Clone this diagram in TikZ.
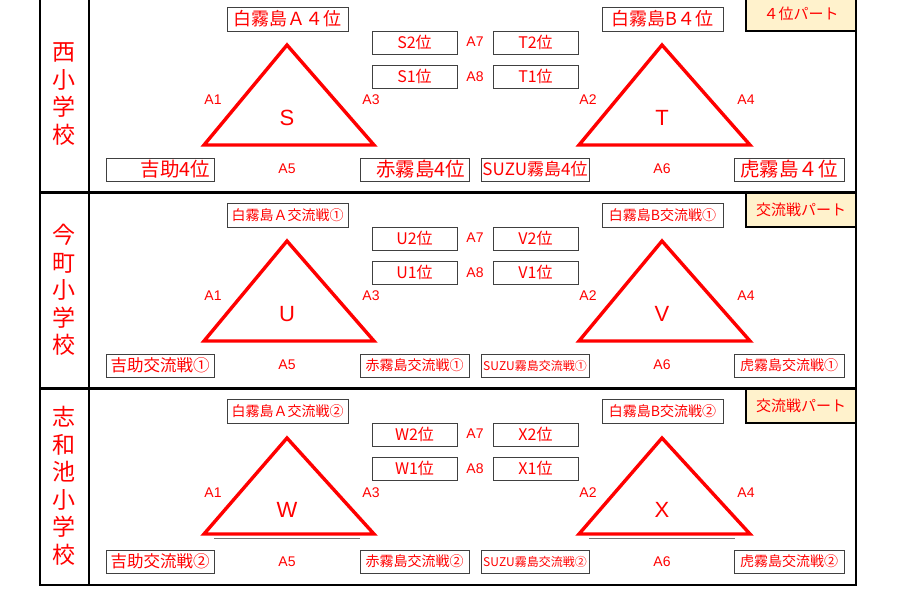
\documentclass[tikz,border=0pt]{standalone}
\usepackage{fontspec}
\setmainfont{Noto Sans CJK JP}
\newfontfamily\latn{Liberation Sans}
\usepackage{xcolor}
\usepackage{tikz}
\tikzset{>=latex}
\usetikzlibrary{shapes,calc}
\definecolor{partBG}{HTML}{FFF2CC}
\newcommand{\fsz}[1]{\fontsize{#1}{#1}\selectfont}
\tikzstyle{seedbox} = [rectangle,draw=black!75,line width=1pt,minimum width=121pt,minimum height=24pt,inner sep=0pt,text=red]
\tikzstyle{rankbox} = [rectangle,draw=black!75,line width=1pt,minimum width=85pt,minimum height=23pt,inner sep=0pt,text=red,font=\fsz{16}]
\tikzstyle{teambox} = [rectangle,draw=black!75,line width=1pt,minimum width=108pt,minimum height=23pt,inner sep=0pt,text=red]
\tikzstyle{partbox} = [rectangle,draw=black,line width=2.5pt,fill=partBG,minimum width=110pt,minimum height=34pt,inner sep=0pt,text=red,font=\fsz{15}]
\tikzstyle{match}  = [text=red,inner sep=0pt,font=\latn\fsz{14}]
\tikzstyle{letter} = [text=red,inner sep=0pt,font=\latn\fsz{22}]
\tikzstyle{league} = [draw=red,line width=3.4pt]
\tikzstyle{school} = [text=red,align=center,inner sep=0pt,font=\fontsize{23}{27.5}\selectfont]
\tikzstyle{frame}  = [draw=black,line width=2.5pt]

\begin{document}
\begin{tikzpicture}[x=1pt,y=-1pt]
	\useasboundingbox (0,0) rectangle (907,598);
	
	% frame
	\draw[frame] (40,0) -- (40,585) -- (856,585) -- (856,0);
	\draw[frame,line width=2pt] (89,0) -- (89,585);
	\draw[frame] (40,192.5) -- (856,192.5);
	\draw[frame] (40,388.5) -- (856,388.5);
	
	% 4 place part
	\node[school] (nishi) at (64,94) {西\\小\\学\\校};
	\node[partbox] (p1) at (801,14) {４位パート};
	
	\node[seedbox,font=\fsz{18}] (sA) at (287.5,19) {白霧島Ａ４位};
	\node[seedbox,font=\fsz{18}] (tB) at (662.5,19) {白霧島B４位};
	\node[rankbox] (s2) at (414.5,42.5) {S2位};
	\node[rankbox] (s1) at (414.5,76.5) {S1位};
	\node[rankbox] (t2) at (535.5,42.5) {T2位};
	\node[rankbox] (t1) at (535.5,76.5) {T1位};
	\node[match] (sa7) at (475,42) {A7};
	\node[match] (sa8) at (475,77) {A8};
	
	\coordinate (s-top) at (287,45);
	\coordinate (s-left) at (204,145);
	\coordinate (s-right) at (374,145);
	\draw[league] (s-top) -- (s-left) -- (s-right) -- cycle;
	\node[letter] (S) at (287,118) {S};
	\node[match] (sa1) at (213,100) {A1};
	\node[match] (sa3) at (371,100) {A3};
	\node[match] (sa5) at (287,169) {A5};
	
	\coordinate (t-top) at (662,45);
	\coordinate (t-left) at (579,145);
	\coordinate (t-right) at (750,145);
	\draw[league] (t-top) -- (t-left) -- (t-right) -- cycle;
	\node[letter] (T) at (662,118) {T};
	\node[match] (ta2) at (588,100) {A2};
	\node[match] (ta4) at (746,100) {A4};
	\node[match] (ta6) at (662,169) {A6};
	
	\node[teambox,font=\fsz{19.5},text width=100pt,align=right] (s-yoshi) at (160,169.5) {吉助4位};
	\node[teambox,font=\fsz{19.5},text width=101pt,align=right,minimum width=109pt] (s-aka) at (414.5,169.5) {赤霧島4位};
	\node[teambox,font=\fsz{17}] (t-suzu) at (535,169.5) {SUZU霧島4位};
	\node[teambox,font=\fsz{19.5},minimum width=110pt] (t-tora) at (789,169.5) {虎霧島４位};
	
	% exchange part 1
	\begin{scope}[shift={(0,196)}]
	\node[school] (imamachi) at (64,94) {今\\町\\小\\学\\校};
	\node[partbox] (p2) at (801,14) {交流戦パート};
	
	\node[seedbox,font=\fsz{14}] (uA) at (287.5,19) {白霧島Ａ交流戦①};
	\node[seedbox,font=\fsz{14}] (vB) at (662.5,19) {白霧島B交流戦①};
	\node[rankbox] (u2) at (414.5,42.5) {U2位};
	\node[rankbox] (u1) at (414.5,76.5) {U1位};
	\node[rankbox] (v2) at (535.5,42.5) {V2位};
	\node[rankbox] (v1) at (535.5,76.5) {V1位};
	\node[match] (ua7) at (475,42) {A7};
	\node[match] (ua8) at (475,77) {A8};
	
	\coordinate (u-top) at (287,45);
	\coordinate (u-left) at (204,145);
	\coordinate (u-right) at (374,145);
	\draw[league] (u-top) -- (u-left) -- (u-right) -- cycle;
	\node[letter] (U) at (287,118) {U};
	\node[match] (ua1) at (213,100) {A1};
	\node[match] (ua3) at (371,100) {A3};
	\node[match] (ua5) at (287,169) {A5};
	
	\coordinate (v-top) at (662,45);
	\coordinate (v-left) at (579,145);
	\coordinate (v-right) at (750,145);
	\draw[league] (v-top) -- (v-left) -- (v-right) -- cycle;
	\node[letter] (V) at (662,118) {V};
	\node[match] (va2) at (588,100) {A2};
	\node[match] (va4) at (746,100) {A4};
	\node[match] (va6) at (662,169) {A6};
	
	\node[teambox,font=\fsz{16.5}] (u-yoshi) at (160,169.5) {吉助交流戦①};
	\node[teambox,font=\fsz{14},minimum width=109pt] (u-aka) at (414.5,169.5) {赤霧島交流戦①};
	\node[teambox,font=\fsz{12}] (v-suzu) at (535,169.5) {SUZU霧島交流戦①};
	\node[teambox,font=\fsz{14},minimum width=110pt] (v-tora) at (789,169.5) {虎霧島交流戦①};
	\end{scope}
	
	% exchange part 2
	\begin{scope}[shift={(0,392)}]
	\node[school] (shiwachi) at (64,94) {志\\和\\池\\小\\学\\校};
	\node[partbox] (p3) at (801,14) {交流戦パート};
	
	\node[seedbox,font=\fsz{14}] (wA) at (287.5,19) {白霧島Ａ交流戦②};
	\node[seedbox,font=\fsz{14}] (xB) at (662.5,19) {白霧島B交流戦②};
	\node[rankbox] (w2) at (414.5,42.5) {W2位};
	\node[rankbox] (w1) at (414.5,76.5) {W1位};
	\node[rankbox] (x2) at (535.5,42.5) {X2位};
	\node[rankbox] (x1) at (535.5,76.5) {X1位};
	\node[match] (wa7) at (475,42) {A7};
	\node[match] (wa8) at (475,77) {A8};
	
	\coordinate (w-top) at (287,46);
	\coordinate (w-left) at (204,142);
	\coordinate (w-right) at (374,142);
	\draw[league] (w-top) -- (w-left) -- (w-right) -- cycle;
	\draw[black!55,line width=1.5pt] (214,146.5) -- (360,146.5);
	\node[letter] (W) at (287,118) {W};
	\node[match] (wa1) at (213,101) {A1};
	\node[match] (wa3) at (371,101) {A3};
	\node[match] (wa5) at (287,170) {A5};
	
	\coordinate (x-top) at (662,46);
	\coordinate (x-left) at (579,142);
	\coordinate (x-right) at (750,142);
	\draw[league] (x-top) -- (x-left) -- (x-right) -- cycle;
	\draw[black!55,line width=1.5pt] (589,146.5) -- (735,146.5);
	\node[letter] (X) at (662,118) {X};
	\node[match] (xa2) at (588,101) {A2};
	\node[match] (xa4) at (746,101) {A4};
	\node[match] (xa6) at (662,170) {A6};
	
	\node[teambox,font=\fsz{16.5}] (w-yoshi) at (160,169.5) {吉助交流戦②};
	\node[teambox,font=\fsz{14},minimum width=109pt] (w-aka) at (414.5,169.5) {赤霧島交流戦②};
	\node[teambox,font=\fsz{12}] (x-suzu) at (535,169.5) {SUZU霧島交流戦②};
	\node[teambox,font=\fsz{14},minimum width=110pt] (x-tora) at (789,169.5) {虎霧島交流戦②};
	\end{scope}
\end{tikzpicture}
\end{document}
